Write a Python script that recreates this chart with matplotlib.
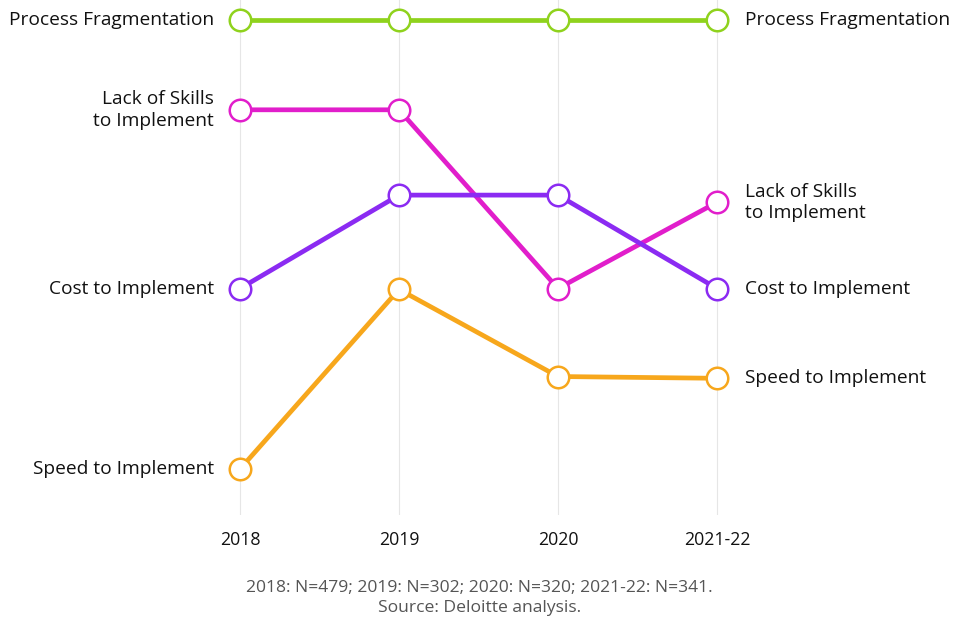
import matplotlib.pyplot as plt

years = ["2018", "2019", "2020", "2021-22"]
process_fragmentation = [60, 60, 60, 60]
lack_of_skills = [50, 50, 30.1, 39.7]
cost_to_implement = [30.1, 40.5, 40.5, 30.1]
speed_to_implement = [10, 30, 20.3, 20.1]
footnote = "2018: N=479; 2019: N=302; 2020: N=320; 2021-22: N=341.\nSource: Deloitte analysis."

series = [
    ("Speed to Implement", speed_to_implement, "#f7a71c"),
    ("Lack of Skills\nto Implement", lack_of_skills, "#e11ecb"),
    ("Cost to Implement", cost_to_implement, "#8b2bf2"),
    ("Process Fragmentation", process_fragmentation, "#8fd21d"),
]

plt.rcParams['font.family'] = ['Open Sans', 'DejaVu Sans']

fig = plt.figure(figsize=(9.69, 6.22), dpi=100)
ax = fig.add_axes([0, 1 - 515 / 622, 1, 515 / 622])
x = list(range(len(years)))

for xi in x:
    ax.axvline(xi, color="#e6e6e6", lw=0.8, zorder=0)

for name, vals, col in series:
    ax.plot(x, vals, color=col, lw=3.4, marker="o", ms=15.5,
            mfc="white", mec=col, mew=1.8, solid_capstyle="round", zorder=3)
    ax.text(x[0] - 0.165, vals[0], name, ha="right", va="center",
            fontsize=13.8, color="#111111", linespacing=1.25)
    ax.text(x[-1] + 0.175, vals[-1], name, ha="left", va="center",
            fontsize=13.8, color="#111111", linespacing=1.25)

ax.set_xlim(-240 / 159, (969 - 240) / 159)
ax.set_ylim(60 - 495 / 8.98, 60 + 20 / 8.98)
ax.axis("off")

for xi, yr in zip(x, years):
    ax.annotate(yr, (xi, 0), xycoords=("data", "axes fraction"),
                xytext=(0, -18), textcoords="offset points",
                ha="center", va="center", fontsize=12.8, color="#111111")

fig.text(0.495, 1 - 598 / 622, footnote, ha="center", va="center",
         fontsize=12.6, color="#555555", linespacing=1.35)

fig.savefig("out.png", dpi=100)
